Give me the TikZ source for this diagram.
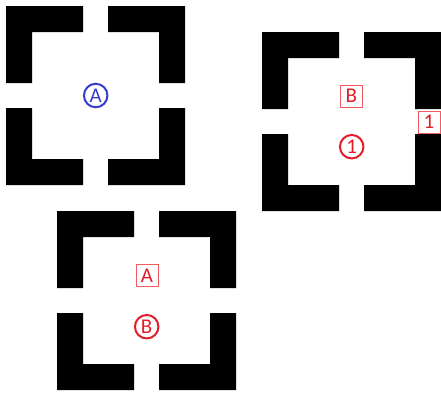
\documentclass[tikz,border=0pt]{standalone}
\usepackage{fontspec}
\setmainfont{Carlito}
\definecolor{cblue}{RGB}{55,60,205}
\definecolor{cred}{RGB}{228,28,40}
\definecolor{cboxred}{RGB}{242,90,95}
\tikzset{
  frame/.pic={
    \foreach \sx/\sy in {1/1,-1/1,1/-1,-1/-1}{
      \fill[black,xscale=\sx,yscale=\sy] (-89.5,-89.5) -- (-12.5,-89.5) -- (-12.5,-63.5)
        -- (-63.5,-63.5) -- (-63.5,-12.5) -- (-89.5,-12.5) -- cycle;
    }
  },
  circlab/.style={circle,draw=#1,text=#1,line width=2pt,minimum size=23.5pt,inner sep=0pt,
    font=\fontsize{21}{22}\selectfont},
  boxlab/.style={rectangle,draw=cboxred,fill=white,text=cred,line width=1pt,minimum size=22pt,inner sep=0pt,
    font=\fontsize{21}{22}\selectfont}
}
\begin{document}
\begin{tikzpicture}[x=1pt,y=-1pt]
\useasboundingbox (0,0) rectangle (441,392);
\pic at (95.5,95.5) {frame};
\pic at (351.5,121.5) {frame};
\pic at (146.5,300.5) {frame};
\node[circlab=cblue] (ca) at (95.7,95.5) {A};
\node[boxlab] (bb) at (351.4,96) {B};
\node[circlab=cred] (c1) at (351.7,146.7) {1};
\node[boxlab] (b1) at (429,122) {1};
\node[boxlab] (ba) at (147,275.5) {A};
\node[circlab=cred] (cb) at (146.7,326.7) {B};
\end{tikzpicture}
\end{document}
